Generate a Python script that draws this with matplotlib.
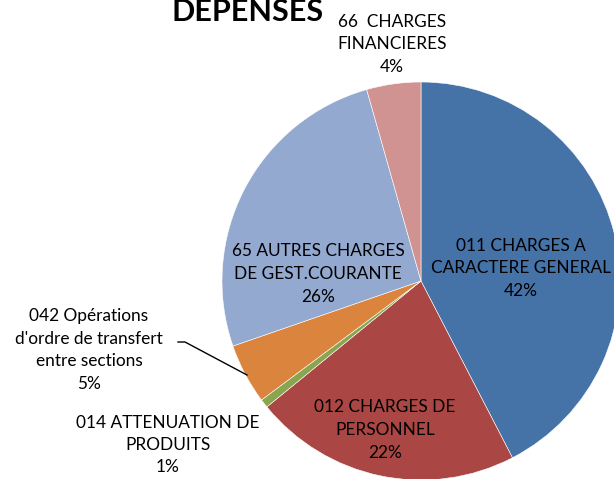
import matplotlib.pyplot as plt

# depenses par chapitre
labels = ['011 CHARGES A\nCARACTERE GENERAL', '012 CHARGES DE\nPERSONNEL',
          '014 ATTENUATION DE\nPRODUITS', "042 Opérations\nd'ordre de transfert\nentre sections",
          '65 AUTRES CHARGES\nDE GEST.COURANTE', '66  CHARGES\nFINANCIERES']
values = [42.4, 21.7, 0.7, 4.9, 25.9, 4.4]
colors = ['#4572A7', '#AA4643', '#89A54E', '#DB843D', '#93A9CF', '#D19392']

# label centres in pixels (x, y from top)
label_pos = [(521, 268), (385, 430), (168, 445), (89, 350), (318, 274), (392, 44)]

W, H = 614, 479
plt.rcParams['font.family'] = ['Lato', 'DejaVu Sans']

fig = plt.figure(figsize=(W / 100, H / 100), dpi=100)
ax = fig.add_axes([0, 0, 1, 1])

ax.pie(values, colors=colors, startangle=90, counterclock=False,
       center=(421, H - 281), radius=199, frame=True,
       wedgeprops={'edgecolor': 'white', 'linewidth': 0.4})
ax.set_xlim(0, W)
ax.set_ylim(0, H)
ax.set_aspect('equal')
ax.axis('off')

total = sum(values)
for lab, v, (x, y) in zip(labels, values, label_pos):
    txt = lab + '\n' + f'{v / total * 100:.0f}%'
    ax.text(x, H - y, txt, ha='center', va='center', fontsize=12.4,
            linespacing=1.5, color='black')

# leader line for 042
ax.plot([178, 185, 247], [H - 342, H - 342, H - 375], color='black', lw=1)

ax.text(248, H + 2, 'DEPENSES', ha='center', va='top', fontsize=22,
        fontweight='bold')

fig.savefig('out.png', dpi=100)
